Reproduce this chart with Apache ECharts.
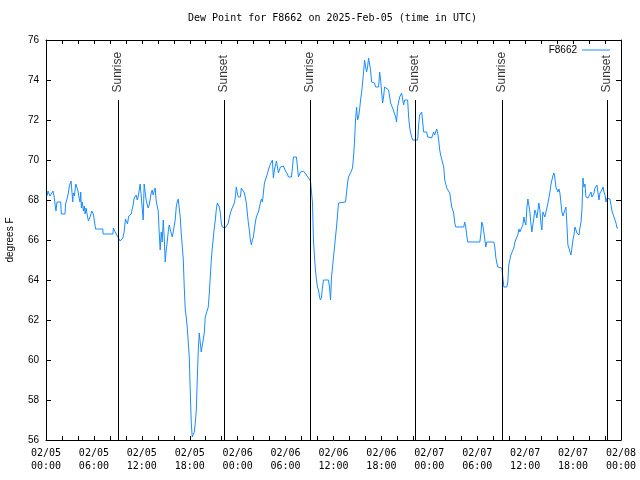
<!DOCTYPE html>
<html><head><meta charset="utf-8">
<script src="https://cdn.jsdelivr.net/npm/echarts@6/dist/echarts.min.js"></script>
<style>html,body{margin:0;padding:0;background:#fff}#c{width:640px;height:480px}</style>
</head><body><div id="c"></div>
<script>
// Hours since 2025-02-05 00:00 UTC
const hours = [
0.13,0.25,0.38,0.50,0.63,0.75,0.88,1.00,1.13,1.25,
1.38,1.63,1.84,1.92,2.13,2.38,2.45,2.60,2.80,2.92,
3.14,3.30,3.35,3.42,3.55,3.73,3.85,3.98,4.10,4.26,
4.35,4.43,4.55,4.68,4.80,4.89,5.02,5.14,5.31,5.52,
5.73,5.93,6.08,6.21,6.77,7.11,7.15,8.37,8.44,8.66,
8.87,9.07,9.28,9.41,9.62,9.78,9.95,10.20,10.37,10.66,
10.79,10.91,11.04,11.29,11.42,11.54,11.79,11.92,12.17,12.29,
12.54,12.79,12.92,13.17,13.30,13.42,13.67,13.80,14.05,14.17,
14.30,14.43,14.55,14.68,14.80,14.93,15.05,15.18,15.30,15.43,
15.55,15.68,15.81,15.93,16.18,16.31,16.43,16.56,16.68,16.81,
16.93,17.06,17.19,17.31,17.44,17.56,17.69,17.94,18.06,18.19,
18.31,18.44,18.57,18.69,18.82,18.94,19.07,19.19,19.32,19.44,
19.69,19.82,19.94,20.07,20.32,20.45,20.57,20.70,20.82,20.95,
21.07,21.20,21.32,21.45,21.58,21.70,21.83,21.95,22.08,22.20,
22.45,22.70,22.83,22.96,23.08,23.21,23.33,23.46,23.58,23.71,
23.83,23.96,24.08,24.34,24.46,24.71,24.84,25.09,25.21,25.34,
25.46,25.59,25.72,25.84,25.97,26.09,26.22,26.34,26.47,26.59,
26.72,26.84,26.97,27.10,27.22,27.35,27.47,27.60,27.72,27.85,
27.97,28.10,28.22,28.35,28.47,28.60,28.85,28.98,29.10,29.23,
29.35,29.60,29.73,29.85,29.98,30.23,30.36,30.73,30.86,30.98,
31.36,31.49,31.61,31.86,32.24,32.49,32.61,32.87,33.12,
33.24,33.37,33.49,33.62,33.74,33.87,33.99,34.12,34.25,34.37,
34.50,34.62,34.75,35.37,35.50,35.63,35.75,35.88,36.00,36.13,
36.25,36.38,36.50,36.63,36.75,37.51,37.63,37.76,37.88,38.13,
38.38,38.51,38.64,38.76,38.89,39.01,39.14,39.26,39.39,39.51,
39.64,39.76,39.89,40.02,40.14,40.27,40.39,40.52,40.64,40.77,
41.14,41.27,41.65,41.78,41.90,42.15,42.27,42.40,42.65,42.90,
43.15,43.40,43.65,43.78,43.90,44.03,44.28,44.53,44.78,44.91,
45.28,45.41,45.53,45.66,45.79,45.91,46.54,46.66,46.79,47.04,
47.17,47.29,47.67,47.79,48.29,48.42,48.54,48.67,48.80,48.92,
49.05,49.17,49.30,49.42,49.67,49.80,49.93,50.18,50.43,50.56,
50.80,50.93,51.05,51.18,51.31,52.31,52.43,52.56,52.68,52.81,
54.32,54.44,54.57,54.69,54.82,54.94,55.07,55.19,56.07,56.20,
56.32,56.45,56.57,57.08,57.20,57.33,57.70,57.83,57.95,58.08,
58.21,58.46,58.58,58.71,58.96,59.08,59.21,59.33,59.46,59.58,
59.71,59.84,59.96,60.09,60.21,60.34,60.46,60.59,60.71,60.84,
60.96,61.09,61.21,61.34,61.47,61.59,61.72,61.84,61.97,62.09,
62.22,62.34,62.47,62.59,62.72,62.85,62.97,63.10,63.22,63.35,
63.47,63.60,63.72,63.85,63.97,64.10,64.23,64.35,64.48,64.60,
64.73,64.85,64.98,65.10,65.23,65.35,65.48,65.61,65.73,65.86,
65.98,66.11,66.23,66.36,66.48,66.74,66.86,66.99,67.11,67.24,
67.36,67.49,67.61,67.87,68.12,68.24,68.37,68.49,68.62,68.74,
68.87,68.99,69.12,69.24,69.37,69.49,69.62,69.75,69.87,70.00,
70.12,70.25,70.37,70.62,70.75,70.87,71.00,71.12,71.25,71.37,
71.50,71.63
];
const dewPointF = [
68.2,68.45,68.5,68.2,68.1,68.1,68.45,68.2,67.8,67.45,
67.9,67.9,67.9,67.3,67.3,67.3,67.8,68.0,68.35,68.7,
68.95,68.9,67.9,68.35,68.2,68.8,68.75,68.5,68.2,67.9,
68.4,67.6,67.9,67.45,67.7,67.3,67.6,67.3,66.95,67.15,
67.45,67.3,66.9,66.55,66.55,66.55,66.3,66.3,66.6,66.4,
66.35,66.1,65.95,65.9,66.1,66.4,67.05,66.8,67.2,67.3,
67.3,67.75,68.1,68.25,68.0,68.15,68.8,68.2,67.0,68.8,
68.0,67.6,67.75,68.35,68.5,68.25,68.6,67.95,67.45,66.4,
65.5,66.4,65.9,67.0,66.15,64.9,65.5,65.9,66.4,66.75,
66.55,66.45,66.15,66.4,67.0,67.65,67.9,68.05,67.6,67.15,
66.35,65.7,65.0,63.65,62.5,62.15,61.6,60.15,58.5,56.85,
56.15,56.05,56.4,56.85,57.5,59.0,60.5,61.35,60.85,60.4,
60.4,61.35,62.15,62.2,62.65,63.35,64.15,65.0,65.6,66.1,
66.6,67.0,67.5,67.85,67.9,67.65,67.35,66.85,66.65,66.7,
66.6,66.6,66.85,67.15,67.25,67.5,67.6,67.4,67.85,68.15,
68.65,68.35,68.15,68.15,68.6,68.6,68.35,67.85,67.35,66.85,
66.5,66.0,65.75,66.0,66.15,66.55,66.9,67.15,67.25,67.4,
67.6,67.85,68.05,67.9,68.35,68.85,69.0,69.15,69.25,69.5,
69.65,69.8,69.9,70.0,69.1,69.5,69.95,69.65,69.35,69.5,
69.65,69.75,69.7,69.6,69.45,69.3,69.15,69.15,69.6,70.15,
70.15,69.65,69.15,69.4,69.45,69.45,69.25,69.1,68.95,
69.0,67.85,66.0,65.15,64.5,64.0,63.65,63.5,63.15,63.0,
63.15,63.65,64.0,64.0,63.65,63.0,64.15,64.65,65.15,65.65,
66.15,66.65,67.25,67.85,67.9,67.9,68.35,68.85,69.15,69.35,
69.6,70.15,71.0,72.0,72.65,72.0,72.15,72.5,73.0,73.35,
73.85,74.35,75.0,74.65,74.4,74.65,75.1,75.2,74.5,73.9,
73.85,73.65,73.65,74.4,74.0,72.85,73.15,73.65,73.6,73.5,
72.85,72.6,72.5,72.15,71.9,72.65,73.15,73.35,72.75,73.0,
73.0,72.15,71.65,71.35,71.15,71.0,71.0,71.75,72.25,72.4,
71.9,71.4,71.4,71.15,71.1,71.2,71.4,71.25,71.4,71.55,
71.35,71.0,70.5,70.25,70.25,69.65,69.0,68.6,68.5,68.35,
67.65,67.6,67.35,66.85,66.65,66.65,66.9,66.65,66.25,65.9,
65.9,66.25,66.9,66.75,66.4,66.05,65.65,65.9,65.9,65.65,
65.15,64.85,64.65,64.6,64.6,63.65,63.65,63.9,64.75,65.0,
65.25,65.3,65.6,65.9,66.0,66.25,66.55,66.4,66.5,66.35,
66.75,67.15,66.9,66.75,67.6,68.05,67.75,67.4,66.85,66.4,
66.75,67.1,67.5,67.35,67.1,67.0,67.85,67.5,66.85,66.5,
67.4,67.35,67.15,67.25,67.6,67.85,68.1,68.4,68.75,69.0,
69.2,69.35,69.1,68.65,68.55,68.4,68.55,68.35,67.85,67.4,
67.2,67.35,67.5,67.65,66.75,65.75,65.6,65.4,65.25,65.6,
66.0,66.25,66.65,66.5,66.35,66.25,66.6,66.9,67.5,69.1,
68.65,68.8,68.15,68.1,68.05,68.4,68.15,68.15,68.35,68.6,
68.5,68.75,68.85,68.0,68.35,68.3,68.5,68.65,68.4,68.25,
67.9,68.1,68.15,68.05,67.75,67.45,67.35,67.15,67.0,66.85,
66.6,66.6
];
const xTickLabels = ['02/05\n00:00','02/05\n06:00','02/05\n12:00','02/05\n18:00',
  '02/06\n00:00','02/06\n06:00','02/06\n12:00','02/06\n18:00',
  '02/07\n00:00','02/07\n06:00','02/07\n12:00','02/07\n18:00','02/08\n00:00'];
const sunTimes = [9.03, 22.30, 33.12, 46.25, 57.16, 70.33];
const sunLabels = ['Sunrise','Sunset','Sunrise','Sunset','Sunrise','Sunset'];
const sunLineTop = 73.0;
const seriesName = 'F8662';

const LINE = '#1a8cff';
const chart = echarts.init(document.getElementById('c'), null, {renderer:'canvas'});
const axisLine = {show:true, onZero:false, lineStyle:{color:'#000', width:1}};
const tick = (len) => ({show:true, inside:true, length:len, lineStyle:{color:'#000', width:1}});
const option = {
  animation:false,
  backgroundColor:'#fff',
  title:{text:'Dew Point for F8662 on 2025-Feb-05 (time in UTC)', left:183, top:8,
    textStyle:{fontFamily:'DejaVu Sans Mono', fontSize:10, fontWeight:'normal', color:'#000'}},
  legend:{data:[seriesName], right:25, top:40, align:'right', itemWidth:28, itemHeight:1, icon:'rect',
    textStyle:{fontFamily:'Liberation Sans', fontSize:10, color:'#000'}},
  grid:{left:46, right:19, top:40, bottom:40, containLabel:false, outerBoundsMode:'none'},
  xAxis:[
    {type:'value', min:0, max:72, interval:2, position:'bottom', axisLine:axisLine, splitLine:{show:false},
      axisTick:tick(4),
      axisLabel:{formatter:(v)=> (v%6===0 ? xTickLabels[v/6] : ''), fontFamily:'DejaVu Sans Mono', fontSize:10,
        color:'#000', lineHeight:13, margin:7}},
    {type:'value', min:0, max:72, interval:2, position:'top', axisLine:axisLine, splitLine:{show:false},
      axisTick:tick(4), axisLabel:{show:false}}
  ],
  yAxis:[
    {type:'value', min:56, max:76, interval:2, position:'left', axisLine:axisLine, splitLine:{show:false},
      axisTick:tick(5),
      axisLabel:{fontFamily:'Liberation Sans', fontSize:10, color:'#000', margin:7},
      name:'degrees F', nameLocation:'middle', nameGap:31,
      nameTextStyle:{fontFamily:'Liberation Sans', fontSize:10, color:'#000'}},
    {type:'value', min:56, max:76, interval:2, position:'right', axisLine:axisLine, splitLine:{show:false},
      axisTick:tick(5), axisLabel:{show:false}}
  ],
  series:[
    {name:seriesName, type:'line', data:hours.map((h,i)=>[h, dewPointF[i]]), symbol:'none', showSymbol:false,
      lineStyle:{width:1, color:LINE}, itemStyle:{color:LINE}, z:3,
      markLine:{silent:true, symbol:['none','none'], label:{show:false},
        lineStyle:{color:'#000', width:1, type:'solid'},
        emphasis:{disabled:true},
        data:sunTimes.map(t=>[{coord:[t,56]},{coord:[t,sunLineTop]}])}},
    {name:'sun', type:'scatter', silent:true, symbolSize:1, itemStyle:{color:'rgba(0,0,0,0)'},
      data:sunTimes.map((t,i)=>({value:[t,sunLineTop], name:sunLabels[i]})),
      label:{show:true, formatter:(p)=>p.name, rotate:90, position:[0,-7], align:'left', verticalAlign:'middle',
        fontFamily:'Liberation Sans', fontSize:12, color:'#000'}}
  ]
};
chart.setOption(option);
</script>
</body></html>
